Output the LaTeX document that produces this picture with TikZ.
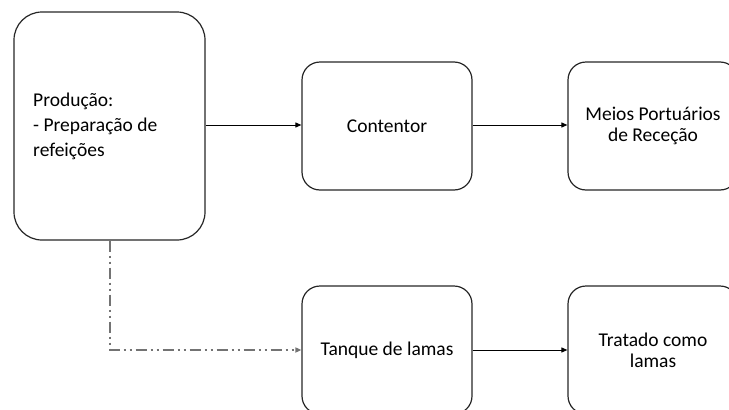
\documentclass[tikz,border=0pt]{standalone}
\usepackage{fontspec}
\setmainfont{Carlito}
\usetikzlibrary{arrows.meta}
\begin{document}
\begin{tikzpicture}[x=1pt,y=-1pt,
  blk/.style={draw=black!85,line width=1.2pt,rounded corners=18pt,
    minimum width=170pt,minimum height=128pt,inner sep=0pt,
    align=center,font=\fontsize{19.5}{21}\selectfont},
  flow/.style={draw=black,line width=1pt,-{Triangle[length=6pt,width=5pt]}},
  sludge/.style={draw=black!55,line width=2pt,
    dash pattern=on 11pt off 4pt on 2pt off 4pt on 2pt off 4pt,
    -{Triangle[length=6pt,width=5pt,fill=black!80]}}]
  \useasboundingbox (0,0) rectangle (729,410);
  \clip (0,0) rectangle (729,410);
  % source box
  \node[blk,rounded corners=28pt,minimum width=191pt,minimum height=228pt]
    (prod) at (109.5,126) {};
  \node[anchor=west,align=left,inner sep=0pt,
    font=\fontsize{19.5}{25}\selectfont] (prodtxt) at (33,126)
    {Produção:\\- Preparação de\\refeições};
  % upper route
  \node[blk] (cont) at (387,126) {Contentor};
  \node[blk] (porto) at (653,126) {Meios Portuários\\de Receção};
  % lower route
  \node[blk] (tanque) at (387,350) {Tanque de lamas};
  \node[blk] (lamas) at (653,350) {Tratado como\\lamas};
  \coordinate (drop) at (110,350);
  \draw[flow] (prod.east |- 0,125) -- (cont.west |- 0,125);
  \draw[flow] (cont.east |- 0,125) -- (porto.west |- 0,125);
  \draw[flow] (tanque) -- (lamas);
  \draw[sludge] (prod.south -| drop) -- (drop) -- (tanque.west);
\end{tikzpicture}
\end{document}
